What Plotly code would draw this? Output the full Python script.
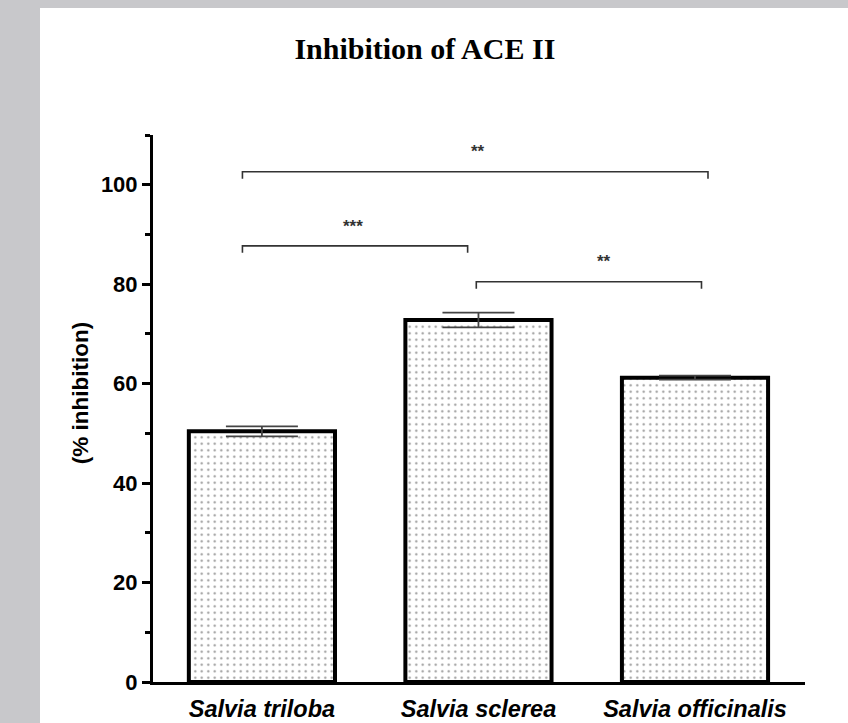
import plotly.graph_objects as go

# ---- data ----
species = ["Salvia triloba", "Salvia sclerea", "Salvia officinalis"]
inhibition = [50.4, 72.8, 61.2]
sem = [1.0, 1.5, 0.4]

# significance brackets: left x, right x, height (% inhibition), label
bracket_left = [-0.09, -0.09, 0.99]
bracket_right = [2.06, 0.95, 2.03]
bracket_height = [102.6, 87.7, 80.5]
bracket_label = ["**", "***", "**"]
label_x = [1.0, 0.42, 1.58]

y_ticks = [0, 20, 40, 60, 80, 100]

fig = go.Figure()
fig.add_trace(go.Bar(
    x=list(range(len(species))), y=inhibition,
    width=0.675,
    marker=dict(color="white", line=dict(color="black", width=4),
                pattern=dict(shape=".", fgcolor="#333333", bgcolor="white",
                             size=6.5, solidity=0.1, fillmode="overlay")),
    error_y=dict(type="data", array=sem, visible=True, color="#444444",
                 thickness=1.8, width=36),
    showlegend=False,
))

shapes = []
# background panel
shapes.append(dict(type="rect", xref="paper", yref="paper", x0=-0.1733, x1=1.1,
                   y0=-0.2, y1=1.2322, fillcolor="white", line=dict(width=0),
                   layer="below"))
tick_drop = 1.4
for l, r, h in zip(bracket_left, bracket_right, bracket_height):
    shapes.append(dict(type="path", xref="x", yref="y",
                       path=f"M {l},{h - tick_drop} L {l},{h} L {r},{h} L {r},{h - tick_drop}",
                       line=dict(color="#333333", width=1.6)))

annotations = []
for x, h, t in zip(label_x, bracket_height, bracket_label):
    annotations.append(dict(x=x, y=h + 4.0, xref="x", yref="y", text=f"<b>{t}</b>",
                            showarrow=False, font=dict(size=17, color="#333333",
                                                         family="Liberation Sans, Arial")))
annotations.append(dict(x=-0.112, y=0.528, xref="paper", yref="paper",
                        text="<b>(% inhibition)</b>", textangle=-90, showarrow=False,
                        font=dict(size=22.5, color="black", family="Liberation Sans, Arial"),
                        xanchor="center", yanchor="middle"))

fig.update_layout(
    width=848, height=723,
    margin=dict(l=153, r=43, t=135, b=41),
    paper_bgcolor="#c8c8cb",
    plot_bgcolor="rgba(0,0,0,0)",
    title=dict(text="<b>Inhibition of ACE II</b>", x=0.501, xanchor="center",
               y=1 - 48 / 723, yanchor="middle",
               font=dict(family="Liberation Serif, Times New Roman", size=30, color="black")),
    shapes=shapes,
    annotations=annotations,
    bargap=0.3,
)
fig.update_xaxes(
    range=[-0.503, 2.508], tickvals=list(range(len(species))),
    ticktext=[f"<b><i>{s}</i></b>" for s in species],
    showline=True, linecolor="black", linewidth=3, ticks="",
    showgrid=False, zeroline=False, automargin=False, ticklabelstandoff=4,
    tickfont=dict(family="Liberation Sans, Arial", size=23.5, color="black"),
)
fig.update_yaxes(
    range=[0, 110], tickvals=y_ticks, ticktext=[f"<b>{v}</b>" for v in y_ticks],
    showline=True, linecolor="black", linewidth=3,
    ticks="outside", ticklen=8, tickwidth=3, tickcolor="black",
    minor=dict(tickvals=[10, 30, 50, 70, 90, 110], ticks="outside", ticklen=5,
               tickwidth=2.5, tickcolor="black"),
    showgrid=False, zeroline=False, automargin=False,
    tickfont=dict(family="Liberation Sans, Arial", size=22, color="black"),
)

fig.write_html("out.html",
               config={"displayModeBar": False},
               post_script="document.body.style.margin='0';"
                           "document.body.style.overflow='hidden';"
                           "document.body.style.background='#c8c8cb';")
